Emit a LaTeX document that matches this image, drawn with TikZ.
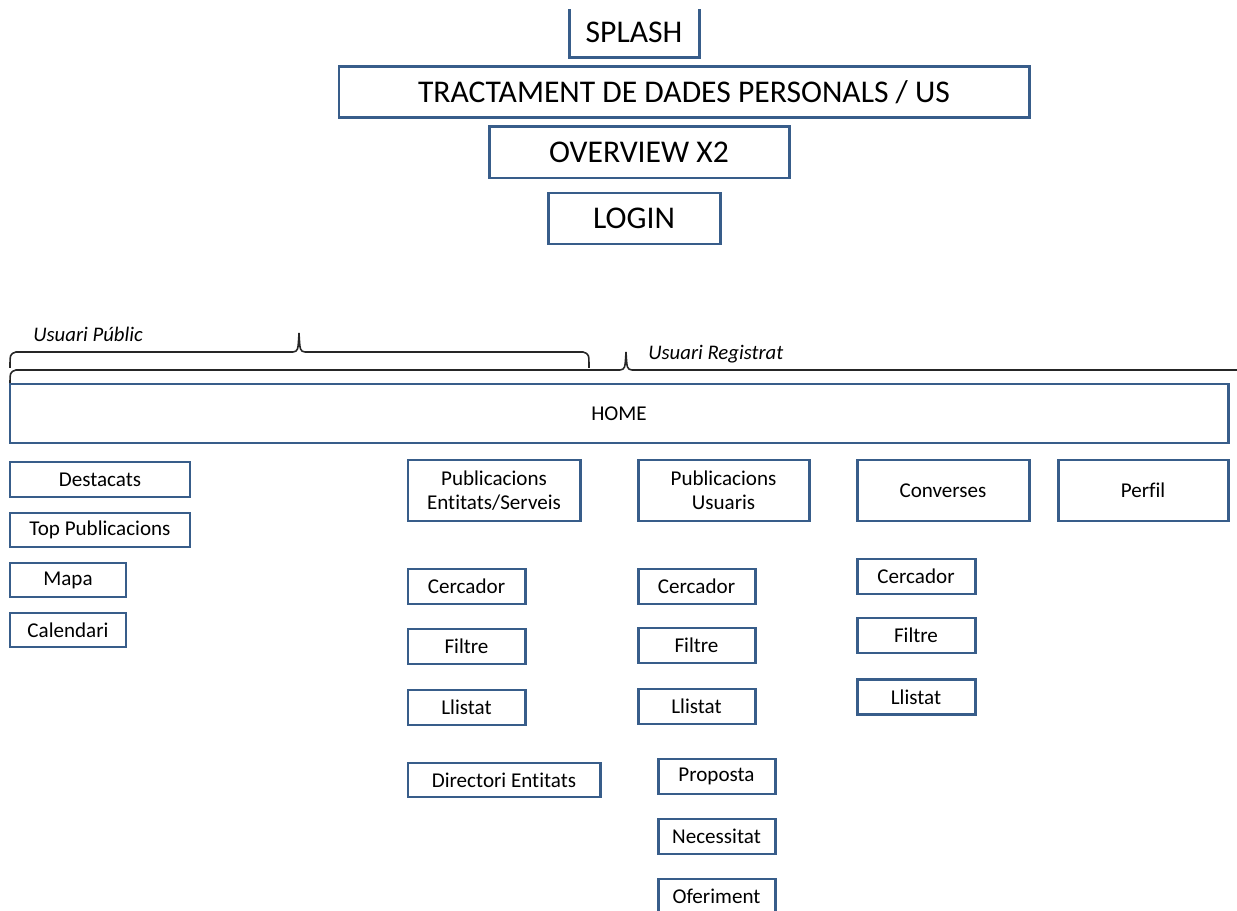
\documentclass[tikz,border=0pt]{standalone}
\usepackage{fontspec}
\setmainfont{Carlito}[Ligatures={NoCommon,NoRare}]
\usepackage{tikz}
\usetikzlibrary{positioning}
\definecolor{boxblue}{RGB}{56, 93, 138}

\tikzset{
  screen/.style={draw=boxblue, line width=1.7pt, fill=white, align=center,
                 inner sep=0pt, font=\fontsize{12}{13.5}\selectfont},
  bigscreen/.style={screen, font=\fontsize{18}{21}\selectfont},
  size/.style 2 args={minimum width=#1*0.02cm, minimum height=#2*0.02cm},
  bracket/.style={draw=black!85, line width=0.9pt},
  group/.style={anchor=west, inner sep=0pt, font=\itshape\fontsize{11.8}{13}\selectfont}
}

\begin{document}
\begin{tikzpicture}[x=0.02cm, y=-0.02cm]
            \useasboundingbox (0,0) rectangle (1237,911);
            % Start screens
            \begin{scope}
              \clip (0,10) rectangle (1237,911);
              \node[bigscreen, size={130}{51}] (splash) at (634, 32) {SPLASH};
            \end{scope}
            \node[bigscreen, size={690}{51}] (dades)    at (684, 92.5)  {TRACTAMENT DE DADES PERSONALS / US};
            \node[bigscreen, size={300}{51}] (overview) at (639, 152.5) {OVERVIEW X2};
            \node[bigscreen, size={172}{51}] (login)    at (634, 218.5) {LOGIN};
            % User brackets
            \draw[bracket] (10,368) .. controls (10,354) .. (16,352) -- (293,352)
                 .. controls (298,351) .. (299,333) .. controls (300,351) .. (305,352)
                 -- (583,352) .. controls (589,354) .. (589,368);
            \node[group] (public) at (33,334) {Usuari Públic};
            \draw[bracket] (10,386) .. controls (10,372) .. (16,370) -- (620,370)
                 .. controls (625,369) .. (626,352) .. controls (627,369) .. (632,370)
                 -- (1240,370);
            \node[group] (registrat) at (648,354) {Usuari Registrat};
            % Home
            \node[screen, size={1218}{59}] (home) at (619, 413.5) {HOME};
            % Public sections
            \node[screen, size={180}{35}] (destacats)  at (100, 479.5) {Destacats};
            \node[screen, size={180}{34}] (toppub)     at (100, 530)   {Top Publicacions};
            \node[screen, size={116}{34}] (mapa)       at (68, 580)    {Mapa};
            \node[screen, size={116}{34}] (calendari)  at (68, 630)    {Calendari};
            % Publicacions Entitats/Serveis
            \node[screen, size={172}{61}] (pubent)     at (494, 490.5) {Publicacions\\Entitats/Serveis};
            \node[screen, size={117}{35}] (cercaent)   at (466.5, 586.5) {Cercador};
            \node[screen, size={117}{35}] (filtreent)  at (466.5, 646.5) {Filtre};
            \node[screen, size={117}{35}] (llistaent)  at (466.5, 707.5) {Llistat};
            \node[screen, size={192}{34}] (directori)  at (504, 780)     {Directori Entitats};
            % Publicacions Usuaris
            \node[screen, size={171}{61}] (pubusr)     at (723.5, 490.5) {Publicacions\\Usuaris};
            \node[screen, size={117}{35}] (cercausr)   at (696.5, 586.5) {Cercador};
            \node[screen, size={117}{35}] (filtreusr)  at (696.5, 645.5) {Filtre};
            \node[screen, size={117}{35}] (llistausr)  at (696.5, 706.5) {Llistat};
            \node[screen, size={117}{35}] (proposta)   at (716.5, 776.5) {Proposta};
            \node[screen, size={117}{35}] (necessitat) at (716.5, 836.5) {Necessitat};
            \node[screen, size={117}{35}] (oferiment)  at (716.5, 896.5) {Oferiment};
            % Converses
            \node[screen, size={172}{61}] (converses)  at (943, 490.5) {Converses};
            \node[screen, size={118}{35}] (cercaconv)  at (916, 576.5) {Cercador};
            \node[screen, size={118}{35}] (filtreconv) at (916, 635.5) {Filtre};
            \node[screen, size={118}{35}] (llistaconv) at (916, 697)   {Llistat};
            % Perfil
            \node[screen, size={170}{61}] (perfil)     at (1143, 490.5) {Perfil};
\end{tikzpicture}
\end{document}
